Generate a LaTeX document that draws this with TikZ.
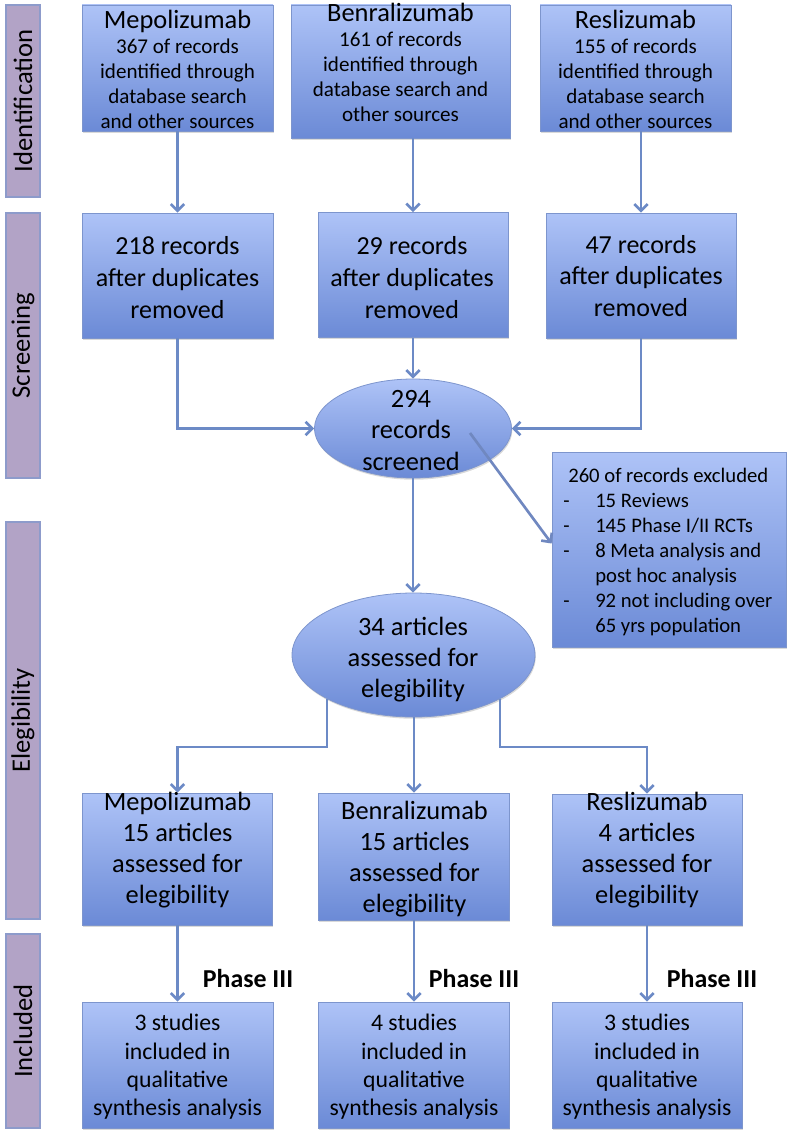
\documentclass[tikz,border=0pt]{standalone}
\usepackage{fontspec}
\setmainfont{Carlito}
\usetikzlibrary{arrows.meta,shadows,calc,shapes.geometric}
\definecolor{boxtop}{HTML}{AEC3F7}
\definecolor{boxbot}{HTML}{6B8AD6}
\definecolor{boxline}{HTML}{7D95CD}
\definecolor{barfill}{HTML}{B2A3C6}
\definecolor{barline}{HTML}{8D9BCB}
\definecolor{connc}{HTML}{6C8AC6}
\definecolor{diagc}{HTML}{7088C0}
\newcommand\fTop{\fontsize{15.8pt}{18.75pt}\selectfont}
\newcommand\fTitle{\fontsize{19.8pt}{18.75pt}\selectfont}
\newcommand\fScr{\fontsize{19.5pt}{23.8pt}\selectfont}
\newcommand\fEll{\fontsize{19.8pt}{23.3pt}\selectfont}
\newcommand\fElg{\fontsize{19.8pt}{23.1pt}\selectfont}
\newcommand\fInc{\fontsize{17.8pt}{21.2pt}\selectfont}
\newcommand\fExc{\fontsize{15.5pt}{18.75pt}\selectfont}
\newcommand\fSide{\fontsize{20pt}{23pt}\selectfont}
\newcommand\fPhase{\fontsize{19.4pt}{23pt}\selectfont\bfseries}
\begin{document}
\begin{tikzpicture}[x=0.75pt,y=-0.75pt,
  box/.style={draw=boxline, line width=0.6pt, top color=boxtop, bottom color=boxbot, inner sep=0pt,
    drop shadow={opacity=0.3, shadow xshift=0.6pt, shadow yshift=-1.3pt}},
  ell/.style={box, ellipse},
  bar/.style={draw=barline, line width=0.8pt, fill=barfill, inner sep=0pt, font=\fSide,
    drop shadow={opacity=0.25, shadow xshift=0.6pt, shadow yshift=-1pt}},
  sz/.style 2 args={minimum width=#1*0.75pt, minimum height=#2*0.75pt},
  conn/.style={draw=connc, line width=2pt, -{Straight Barb[length=5pt,width=10pt]}},
  txt/.style={align=center, inner sep=0pt, text=black}
]
\useasboundingbox (0,0) rectangle (787,1138);

% side bars
\node[bar, rotate=90, sz={192}{34}] (idbar) at (23,101) {Identification};
\node[bar, rotate=90, sz={265}{34}] (scbar) at (23,345.5) {Screening};
\node[bar, rotate=90, sz={397}{34}] (elbar) at (23,720.5) {Elegibility};
\node[bar, rotate=90, sz={194}{34}] (inbar) at (23,1031) {Included};

% identification row
\node[box, sz={191}{126}] (m1) at (177.5,68) {};
\node[box, sz={219}{133}] (b1) at (400.5,71.5) {};
\node[box, sz={191}{126}] (r1) at (635.5,68) {};
\node[txt, font=\fTop] (m1t) at (177.5,69) {{\fTitle Mepolizumab}\\367 of records\\identified through\\database search\\and other sources};
\node[txt, font=\fTop] (b1t) at (400.5,62) {{\fTitle Benralizumab}\\161 of records\\identified through\\database search and\\other sources};
\node[txt, font=\fTop] (r1t) at (635.5,69) {{\fTitle Reslizumab}\\155 of records\\identified through\\database search\\and other sources};

% screening row
\node[box, sz={191}{125}] (m2) at (177.5,275.5) {};
\node[box, sz={190}{125}] (b2) at (413,275) {};
\node[box, sz={190}{125}] (r2) at (641,275.5) {};
\node[txt, font=\fScr] (m2t) at (177.5,277.5) {218 records\\after duplicates\\removed};
\node[txt, font=\fScr] (b2t) at (412,277.5) {29 records\\after duplicates\\removed};
\node[txt, font=\fScr] (r2t) at (641,276) {47 records\\after duplicates\\removed};

\node[ell, sz={197}{99}] (scr) at (413,428.5) {};
\node[txt, font=\fEll] (scrt) at (411,430.5) {294\\records\\screened};

% exclusion box
\node[box, sz={234}{195}] (exc) at (669,549.5) {};
\node[txt, align=left, font=\fExc, anchor=west] (exct) at (563,552) {\hspace*{3.75pt}260 of records excluded\\
\makebox[24pt][l]{-}15 Reviews\\
\makebox[24pt][l]{-}145 Phase I/II RCTs\\
\makebox[24pt][l]{-}8 Meta analysis and\\
\hspace*{24pt}post hoc analysis\\
\makebox[24pt][l]{-}92 not including over\\
\hspace*{24pt}65 yrs population};

\node[ell, sz={243}{124}] (el) at (413.5,655) {};
\node[txt, font=\fEll] (elt) at (413,660) {34 articles\\assessed for\\elegibility};

% elegibility row
\node[box, sz={190}{132}] (m3) at (177.5,859) {};
\node[box, sz={191}{127}] (b3) at (414,856.5) {};
\node[box, sz={190}{131}] (r3) at (647,859.5) {};
\node[txt, font=\fElg] (m3t) at (177.5,850) {Mepolizumab\\15 articles\\assessed for\\elegibility};
\node[txt, font=\fElg] (b3t) at (414.5,859) {Benralizumab\\15 articles\\assessed for\\elegibility};
\node[txt, font=\fElg] (r3t) at (647,850) {Reslizumab\\4 articles\\assessed for\\elegibility};

% included row
\node[box, sz={191}{126}] (m4) at (177.5,1065) {};
\node[box, sz={191}{126}] (b4) at (414,1065) {};
\node[box, sz={190}{126}] (r4) at (647,1065) {};
\node[txt, font=\fInc] (m4t) at (177.5,1067) {3 studies\\included in\\qualitative\\synthesis analysis};
\node[txt, font=\fInc] (b4t) at (414,1067) {4 studies\\included in\\qualitative\\synthesis analysis};
\node[txt, font=\fInc] (r4t) at (647,1067) {3 studies\\included in\\qualitative\\synthesis analysis};

\node[txt, font=\fPhase] (ph1) at (248,979) {Phase III};
\node[txt, font=\fPhase] (ph2) at (474,979) {Phase III};
\node[txt, font=\fPhase] (ph3) at (712,979) {Phase III};

% connectors
\draw[conn] (m1.south) -- (m2.north);
\draw[conn] (b2.north |- b1.south) -- (b2.north);
\draw[conn] (r2.north |- r1.south) -- (r2.north);
\draw[conn] (m2.south) |- (scr.west);
\draw[conn] (r2.south) |- (scr.east);
\draw[conn] (b2.south) -- (scr.north);
\draw[conn] (scr.south) -- (scr.south |- el.north);
\coordinate (dg) at (470,433);
\draw[conn, draw=diagc] (dg) -- ($(exc.west)+(0,-6)$);
\draw[conn] (el.207) -- ++(0,48) -| (m3.north);
\draw[conn] (el.333) -- ++(0,48) -| (r3.north);
\draw[conn] (el.south -| b3.north) -- (b3.north);
\draw[conn] (m3.south) -- (m4.north);
\draw[conn] (b3.south) -- (b4.north);
\draw[conn] (r3.south) -- (r4.north);
\end{tikzpicture}
\end{document}
